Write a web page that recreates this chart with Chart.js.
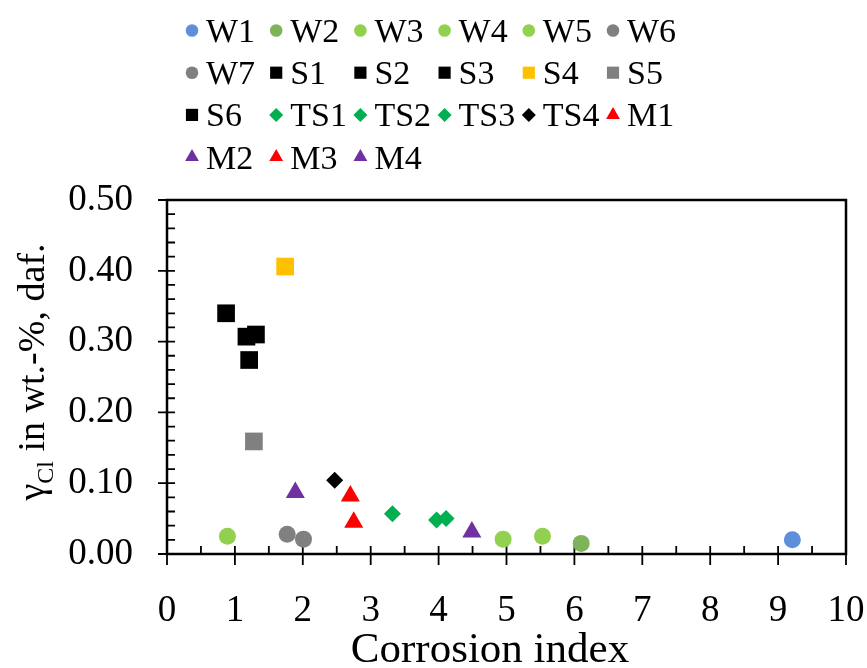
<!DOCTYPE html>
<html>
<head>
<meta charset="utf-8">
<script src="https://cdn.jsdelivr.net/npm/chart.js@4.4.1/dist/chart.umd.min.js"></script>
<style>
  html, body { margin: 0; background: #fff; }
  #box { width: 867px; height: 668px; }
</style>
</head>
<body>
<div id="box"><canvas id="grafico"></canvas></div>
<script>
// Amostras e valores
const amostras = ['W1', 'W2', 'W3', 'W4', 'W5', 'W6', 'W7',
  'S1', 'S2', 'S3', 'S4', 'S5', 'S6',
  'TS1', 'TS2', 'TS3', 'TS4', 'M1', 'M2', 'M3', 'M4'];
const indiceCorrosao = [9.21, 6.10, 0.89, 4.95, 5.53, 1.77, 2.01,
  0.87, 1.17, 1.31, 1.74, 1.28, 1.21,
  3.32, 3.97, 4.11, 2.47, 2.70, 1.89, 2.75, 4.49];
const teorCloro = [0.020, 0.015, 0.025, 0.021, 0.025, 0.028, 0.021,
  0.340, 0.307, 0.310, 0.406, 0.159, 0.274,
  0.057, 0.048, 0.050, 0.104, 0.082, 0.087, 0.045, 0.031];
const ticksY = [0, 0.1, 0.2, 0.3, 0.4, 0.5];

// Estilo de cada amostra (cor e forma)
const cores = ['#5f8fd8', '#7fb35a', '#92d050', '#92d050', '#92d050', '#808080', '#808080',
  '#000000', '#000000', '#000000', '#ffc000', '#808080', '#000000',
  '#00b050', '#00b050', '#00b050', '#000000', '#ff0000', '#7030a0', '#ff0000', '#7030a0'];
const formas = ['circle', 'circle', 'circle', 'circle', 'circle', 'circle', 'circle',
  'rect', 'rect', 'rect', 'rect', 'rect', 'rect',
  'rectRot', 'rectRot', 'rectRot', 'rectRot', 'triangle', 'triangle', 'triangle', 'triangle'];
const raioPlot = { circle: 8.5, rect: 12.5, rectRot: 8.5, triangle: 11 };
const raioLegenda = { circle: 6.3, rect: 8.6, rectRot: 7, triangle: 8 };

const fonte = '"Liberation Serif", "Times New Roman", serif';

// Legenda em grade (6 colunas)
const legendaGrade = {
  id: 'legendaGrade',
  afterDraw(chart) {
    const ctx = chart.ctx;
    ctx.save();
    ctx.font = '34px ' + fonte;
    ctx.textBaseline = 'alphabetic';
    chart.data.datasets.forEach((ds, i) => {
      const col = i % 6, lin = Math.floor(i / 6);
      const mx = 192 + col * 84.2;
      const base = 42 + lin * 42.2;
      ctx.fillStyle = ds.backgroundColor;
      Chart.helpers.drawPoint(ctx, {
        pointStyle: ds.pointStyle,
        radius: raioLegenda[ds.pointStyle],
        rotation: 0,
        borderWidth: 0
      }, mx, base - 11.5);
      ctx.fillStyle = '#000';
      ctx.fillText(ds.label, mx + 14, base);
    });
    ctx.restore();
  }
};

// Moldura, marcas principais e secundárias, títulos dos eixos
const moldura = {
  id: 'moldura',
  beforeDatasetsDraw(chart) {
    const { ctx, chartArea: a, scales: { x, y } } = chart;
    ctx.save();
    ctx.strokeStyle = '#000';
    ctx.lineWidth = 2.5;
    ctx.strokeRect(a.left, a.top, a.right - a.left, a.bottom - a.top);
    ctx.lineWidth = 1.8;
    ctx.beginPath();
    for (let i = 0; i <= 20; i++) {
      const px = x.getPixelForValue(i * 0.5);
      const maior = i % 2 === 0;
      ctx.moveTo(px, a.bottom + (maior ? 11 : 0));
      ctx.lineTo(px, a.bottom - 8);
    }
    for (let i = 0; i <= 25; i++) {
      const py = y.getPixelForValue(i * 0.02);
      const maior = i % 5 === 0;
      ctx.moveTo(a.left - (maior ? 9 : 0), py);
      ctx.lineTo(a.left + 8, py);
    }
    ctx.stroke();

    ctx.fillStyle = '#000';
    ctx.textBaseline = 'alphabetic';

    // título do eixo x
    ctx.font = '43px ' + fonte;
    ctx.textAlign = 'center';
    ctx.fillText('Corrosion index', 490, 662);

    // título do eixo y com subscrito
    const f1 = '38px ' + fonte, f2 = '24px ' + fonte;
    ctx.textAlign = 'left';
    ctx.translate(44, 372);
    ctx.rotate(-Math.PI / 2);
    ctx.font = f1; const w1 = ctx.measureText('γ').width;
    const w3 = ctx.measureText(' in wt.-%, daf.').width;
    ctx.font = f2; const w2 = ctx.measureText('Cl').width;
    let xx = -(w1 + w2 + w3) / 2;
    ctx.font = f1; ctx.fillText('γ', xx, 0); xx += w1;
    ctx.font = f2; ctx.fillText('Cl', xx, 9); xx += w2;
    ctx.font = f1; ctx.fillText(' in wt.-%, daf.', xx, 0);
    ctx.restore();
  }
};

const ctx = document.getElementById('grafico').getContext('2d');

const grafico = new Chart(ctx, {
  type: 'scatter',
  data: {
    datasets: amostras.map((nome, i) => ({
      label: nome,
      data: [{ x: indiceCorrosao[i], y: teorCloro[i] }],
      backgroundColor: cores[i],
      borderWidth: 0,
      pointStyle: formas[i],
      pointRadius: raioPlot[formas[i]],
      pointHoverRadius: raioPlot[formas[i]]
    }))
  },
  options: {
    responsive: true,
    maintainAspectRatio: false,
    animation: false,
    layout: { padding: { top: 200, right: 21, left: 0, bottom: 0 } },
    plugins: {
      legend: { display: false },
      tooltip: { enabled: false }
    },
    scales: {
      x: {
        type: 'linear',
        min: 0, max: 10,
        grid: { display: false, drawTicks: false, tickLength: 0 },
        border: { display: false },
        ticks: { stepSize: 1, color: '#000', padding: 35, font: { family: fonte, size: 37 } },
        afterFit(scale) {
          scale.height = 114;
          scale.paddingLeft = 0;
          scale.paddingRight = 0;
        }
      },
      y: {
        type: 'linear',
        min: 0, max: 0.5,
        grid: { display: false, drawTicks: false, tickLength: 0 },
        border: { display: false },
        afterBuildTicks(scale) { scale.ticks = ticksY.map(v => ({ value: v })); },
        ticks: {
          color: '#000', padding: 34, font: { family: fonte, size: 37 },
          callback: v => v.toFixed(2)
        },
        afterFit(scale) {
          scale.width = 167;
          scale.paddingTop = 0;
          scale.paddingBottom = 0;
        }
      }
    }
  },
  plugins: [moldura, legendaGrade]
});
</script>
</body>
</html>
